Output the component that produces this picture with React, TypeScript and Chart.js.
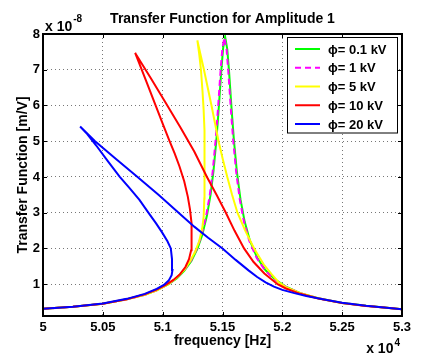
import React, { useEffect, useRef } from "react";
import { Chart, registerables } from "chart.js";

Chart.register(...registerables);

const FONT = "'Liberation Sans', Arial, Helvetica, sans-serif";

const titleText = "Transfer Function for Amplitude 1";
const xAxisTitle = "frequency [Hz]";
const yAxisTitle = "Transfer Function [m/V]";
const xExponent = "4";
const yExponent = "-8";

const xTicks = [5, 5.05, 5.1, 5.15, 5.2, 5.25, 5.3];
const xTickLabels = ["5", "5.05", "5.1", "5.15", "5.2", "5.25", "5.3"];
const yTicks = [1, 2, 3, 4, 5, 6, 7, 8];
const yTickLabels = ["1", "2", "3", "4", "5", "6", "7", "8"];

const seriesLabels = ["\u03D5= 0.1 kV", "\u03D5= 1 kV", "\u03D5= 5 kV", "\u03D5= 10 kV", "\u03D5= 20 kV"];
const seriesColors = ["#00ff00", "#ff00ff", "#ffff00", "#ff0000", "#0000ff"];

// 0.1 kV
const freq01 = [5.000, 5.025, 5.050, 5.070, 5.085, 5.095, 5.105, 5.112, 5.118, 5.124, 5.129, 5.133, 5.137, 5.140, 5.1425, 5.145, 5.147, 5.149, 5.1505, 5.1522, 5.154, 5.1555, 5.1575, 5.1595, 5.162, 5.165, 5.1685, 5.173, 5.179, 5.186, 5.194, 5.203, 5.215, 5.230, 5.250, 5.270, 5.285, 5.300];
const tf01 = [0.31, 0.37, 0.455, 0.575, 0.70, 0.825, 1.0, 1.17, 1.37, 1.65, 1.99, 2.37, 2.92, 3.5, 4.18, 5.08, 5.99, 6.98, 7.6, 7.92, 7.57, 6.94, 5.94, 5.04, 4.15, 3.38, 2.75, 2.21, 1.74, 1.39, 1.13, 0.93, 0.75, 0.605, 0.475, 0.395, 0.35, 0.30];

// 1 kV
const freq1 = [5.000, 5.025, 5.050, 5.070, 5.085, 5.095, 5.1045, 5.1115, 5.1175, 5.1235, 5.1285, 5.1325, 5.1364, 5.1394, 5.1419, 5.1444, 5.1464, 5.1484, 5.1499, 5.1516, 5.1534, 5.1549, 5.1569, 5.1589, 5.1614, 5.1644, 5.1679, 5.1724, 5.1785, 5.1855, 5.1935, 5.2027, 5.215, 5.230, 5.250, 5.270, 5.285, 5.300];
const tf1 = [0.31, 0.37, 0.455, 0.575, 0.70, 0.826, 1.0, 1.17, 1.37, 1.65, 1.99, 2.37, 2.92, 3.5, 4.18, 5.08, 5.99, 6.98, 7.6, 7.9, 7.57, 6.94, 5.94, 5.04, 4.15, 3.38, 2.75, 2.21, 1.74, 1.39, 1.13, 0.93, 0.75, 0.605, 0.475, 0.395, 0.35, 0.30];

// 5 kV
const freq5 = [5.000, 5.025, 5.050, 5.070, 5.085, 5.095, 5.105, 5.112, 5.118, 5.123, 5.127, 5.1305, 5.133, 5.1343, 5.1348, 5.135, 5.135, 5.1349, 5.1342, 5.1333, 5.132, 5.1305, 5.129, 5.1318, 5.1345, 5.1408, 5.1467, 5.1502, 5.154, 5.158, 5.1625, 5.169, 5.1764, 5.1845, 5.191, 5.197, 5.203, 5.215, 5.230, 5.250, 5.270, 5.285, 5.300];
const tf5 = [0.31, 0.37, 0.455, 0.578, 0.705, 0.83, 1.01, 1.19, 1.40, 1.65, 1.9, 2.2, 2.55, 2.9, 3.4, 4.0, 4.6, 5.3, 5.9, 6.4, 7.0, 7.45, 7.82, 7.4, 7.0, 6.0, 5.0, 4.5, 4.0, 3.5, 3.0, 2.5, 2.0, 1.55, 1.28, 1.05, 0.92, 0.75, 0.605, 0.475, 0.395, 0.35, 0.30];

// 10 kV
const freq10 = [5.000, 5.025, 5.050, 5.070, 5.085, 5.095, 5.103, 5.109, 5.1145, 5.119, 5.122, 5.1238, 5.1243, 5.124, 5.1228, 5.121, 5.118, 5.114, 5.110, 5.1056, 5.1005, 5.0945, 5.086, 5.077, 5.090, 5.103, 5.115, 5.1264, 5.137, 5.145, 5.1528, 5.160, 5.168, 5.176, 5.185, 5.196, 5.203, 5.215, 5.230, 5.250, 5.270, 5.285, 5.300];
const tf10 = [0.31, 0.37, 0.455, 0.58, 0.715, 0.85, 0.99, 1.12, 1.28, 1.48, 1.7, 1.95, 2.3, 2.7, 3.1, 3.45, 3.88, 4.3, 4.66, 5.02, 5.45, 5.97, 6.7, 7.47, 6.77, 6.05, 5.38, 4.71, 4.0, 3.5, 3.0, 2.5, 2.0, 1.62, 1.3, 1.0, 0.88, 0.73, 0.60, 0.47, 0.39, 0.35, 0.30];

// 20 kV
const freq20 = [5.000, 5.025, 5.050, 5.070, 5.085, 5.095, 5.101, 5.105, 5.1075, 5.1082, 5.1078, 5.1068, 5.104, 5.0995, 5.0945, 5.0885, 5.0806, 5.072, 5.064, 5.054, 5.0445, 5.037, 5.031, 5.0435, 5.061, 5.079, 5.0965, 5.114, 5.1264, 5.138, 5.150, 5.161, 5.172, 5.179, 5.186, 5.193, 5.200, 5.210, 5.220, 5.235, 5.250, 5.270, 5.285, 5.300];
const tf20 = [0.31, 0.37, 0.46, 0.59, 0.73, 0.87, 0.98, 1.1, 1.25, 1.4, 1.7, 2.0, 2.2, 2.45, 2.7, 2.98, 3.36, 3.7, 4.01, 4.45, 4.88, 5.2, 5.41, 5.0, 4.5, 4.0, 3.5, 2.98, 2.61, 2.3, 2.0, 1.68, 1.38, 1.2, 1.05, 0.93, 0.84, 0.75, 0.67, 0.57, 0.48, 0.395, 0.35, 0.30];

const seriesFreq = [freq01, freq1, freq5, freq10, freq20];
const seriesTf = [tf01, tf1, tf5, tf10, tf20];
const seriesDash: number[][] = [[], [6, 4], [], [], []];

const zip = (xs: number[], ys: number[]) => xs.map((x, i) => ({ x, y: ys[i] }));

const decorPlugin = {
  id: "decor",
  afterDraw(chart: any) {
    const { ctx, chartArea: a, scales } = chart;
    const xs = scales.x;
    const ys = scales.y;
    ctx.save();
    // inner tick marks
    ctx.strokeStyle = "#000";
    ctx.lineWidth = 1;
    ctx.setLineDash([]);
    const tl = 4;
    ctx.beginPath();
    for (const v of xTicks) {
      const px = Math.round(xs.getPixelForValue(v)) + 0.5;
      ctx.moveTo(px, a.bottom);
      ctx.lineTo(px, a.bottom - tl);
      ctx.moveTo(px, a.top);
      ctx.lineTo(px, a.top + tl);
    }
    for (const v of yTicks) {
      const py = Math.round(ys.getPixelForValue(v)) + 0.5;
      ctx.moveTo(a.left, py);
      ctx.lineTo(a.left + tl, py);
      ctx.moveTo(a.right, py);
      ctx.lineTo(a.right - tl, py);
    }
    ctx.stroke();
    // frame
    ctx.lineWidth = 2;
    ctx.strokeRect(a.left, a.top, a.right - a.left, a.bottom - a.top);

    // title
    ctx.fillStyle = "#000";
    ctx.font = `bold 14px ${FONT}`;
    ctx.textAlign = "center";
    ctx.textBaseline = "alphabetic";
    ctx.fillText(titleText, (a.left + a.right) / 2, 23);

    // y exponent
    ctx.textAlign = "left";
    ctx.font = `bold 14px ${FONT}`;
    const yBase = "x 10";
    ctx.fillText(yBase, a.left + 2, 31);
    const w1 = ctx.measureText(yBase).width;
    ctx.font = `bold 10px ${FONT}`;
    ctx.fillText(yExponent, a.left + 2 + w1 + 1, 22);

    // x exponent
    ctx.font = `bold 10px ${FONT}`;
    const wExp = ctx.measureText(xExponent).width;
    ctx.font = `bold 14px ${FONT}`;
    const xBase = "x 10";
    const wB = ctx.measureText(xBase).width;
    const endX = 400;
    ctx.fillText(xBase, endX - wExp - 1 - wB, 353);
    ctx.font = `bold 10px ${FONT}`;
    ctx.fillText(xExponent, endX - wExp, 346);

    // legend
    const lx = 287.5, ly = 37.5, lw = 110, lh = 95.5;
    ctx.fillStyle = "#fff";
    ctx.fillRect(lx, ly, lw, lh);
    ctx.strokeStyle = "#000";
    ctx.lineWidth = 1;
    ctx.strokeRect(lx, ly, lw, lh);
    const ds = chart.data.datasets;
    ctx.font = `bold 13px ${FONT}`;
    ctx.textBaseline = "middle";
    ctx.textAlign = "left";
    for (let i = 0; i < ds.length; i++) {
      const ry = 49 + i * 18.75;
      ctx.strokeStyle = ds[i].borderColor;
      ctx.lineWidth = 2;
      ctx.setLineDash(ds[i].borderDash || []);
      ctx.beginPath();
      ctx.moveTo(295, ry);
      ctx.lineTo(320, ry);
      ctx.stroke();
      ctx.setLineDash([]);
      ctx.fillStyle = "#000";
      ctx.fillText(ds[i].label, 328, ry + 1);
    }
    ctx.restore();
  },
};

export default function App() {
  const ref = useRef<HTMLCanvasElement>(null);
  useEffect(() => {
    document.body.style.margin = "0";
    const canvas = ref.current;
    if (!canvas) return;
    const datasets = seriesLabels.map((label, i) => ({
      label,
      data: zip(seriesFreq[i], seriesTf[i]),
      borderColor: seriesColors[i],
      backgroundColor: seriesColors[i],
      borderWidth: 2,
      borderDash: seriesDash[i],
      showLine: true,
      pointRadius: 0,
      pointHoverRadius: 0,
      tension: 0,
      fill: false,
      order: seriesLabels.length - i,
    }));
    const chart = new Chart(canvas, {
      type: "scatter",
      data: { datasets },
      options: {
        responsive: false,
        animation: false,
        devicePixelRatio: 1,
        events: [],
        layout: { padding: { left: 0, top: 34, right: 20, bottom: 0 } },
        plugins: {
          legend: { display: false },
          title: { display: false },
          tooltip: { enabled: false },
        },
        scales: {
          x: {
            type: "linear",
            min: 5,
            max: 5.3,
            afterBuildTicks: (s: any) => {
              s.ticks = xTicks.map((v) => ({ value: v }));
            },
            afterFit: (s: any) => {
              s.height = 39;
            },
            ticks: {
              autoSkip: false,
              maxRotation: 0,
              padding: 4,
              color: "#000",
              font: { family: FONT, size: 13, weight: "bold" },
              callback: (_v: any, i: number) => xTickLabels[i],
            },
            grid: { color: "#777", lineWidth: 1, drawTicks: false },
            border: { display: false, dash: [1, 3] },
            title: {
              display: true,
              text: xAxisTitle,
              color: "#000",
              font: { family: FONT, size: 14, weight: "bold" },
              padding: { top: 0, bottom: 5 },
            },
          },
          y: {
            type: "linear",
            min: 0.11,
            max: 8,
            afterBuildTicks: (s: any) => {
              s.ticks = yTicks.map((v) => ({ value: v }));
            },
            afterFit: (s: any) => {
              s.width = 43;
            },
            ticks: {
              autoSkip: false,
              padding: 3,
              color: "#000",
              font: { family: FONT, size: 13, weight: "bold" },
              callback: (_v: any, i: number) => yTickLabels[i],
            },
            grid: { color: "#777", lineWidth: 1, drawTicks: false },
            border: { display: false, dash: [1, 3] },
            title: {
              display: true,
              text: yAxisTitle,
              color: "#000",
              font: { family: FONT, size: 14, weight: "bold" },
              padding: { top: 15, bottom: 0 },
            },
          },
        },
      },
      plugins: [decorPlugin],
    } as any);
    return () => chart.destroy();
  }, []);
  return (
    <div style={{ position: "absolute", left: 0, top: 0, width: 422, height: 355, background: "#fff" }}>
      <canvas ref={ref} width={422} height={355} style={{ display: "block", width: 422, height: 355 }} />
    </div>
  );
}
